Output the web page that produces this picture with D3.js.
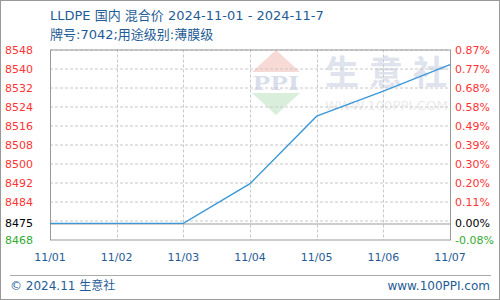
<!DOCTYPE html>
<html>
<head>
<meta charset="utf-8">
<script src="https://cdn.jsdelivr.net/npm/d3@7"></script>
<style>
  body { margin: 0; background: #fff; }
  svg { display: block; font-family: Tahoma, "DejaVu Sans", "Noto Sans CJK SC", sans-serif; }
</style>
</head>
<body>
<svg width="500" height="300"></svg>
<script>
const dates = ['11/01', '11/02', '11/03', '11/04', '11/05', '11/06', '11/07'];
const prices = [8475, 8475, 8475, 8491.67, 8520, 8530.5, 8541.67];
const basePrice = 8475;
const leftTicks = [8548, 8540, 8532, 8524, 8516, 8508, 8500, 8492, 8484, 8475, 8468];
const rightTicks = ['0.87%', '0.77%', '0.68%', '0.58%', '0.49%', '0.39%', '0.30%', '0.20%', '0.11%', '0.00%', '-0.08%'];
const gridValues = [8548, 8540, 8532, 8524, 8516, 8508, 8500, 8492, 8484, 8476];

const margens = { left: 50, right: 50, top: 49.5, bottom: 60 };
const svg = d3.select('svg');
const width = 500 - margens.left - margens.right;
const height = 300 - margens.top - margens.bottom;

// outer border
svg.append('rect').attr('x', 0.5).attr('y', 0.5).attr('width', 499).attr('height', 299)
  .attr('fill', 'none').attr('stroke', '#999');

// title
const titleColor = '#1f5c96';
svg.append('text').attr('x', 50).attr('y', 20).attr('fill', titleColor).attr('font-size', 13)
  .text('LLDPE 国内 混合价 2024-11-01 - 2024-11-7');
svg.append('text').attr('x', 50).attr('y', 39).attr('fill', titleColor).attr('font-size', 13)
  .text('牌号:7042;用途级别:薄膜级');

const g = svg.append('g').attr('transform', `translate(${margens.left}, ${margens.top})`);

const xScale = d3.scalePoint().domain(dates).range([0, width]);
const yScale = d3.scaleLinear().domain([8468, 8548]).range([height, 0]);

// watermark
const wm = g.append('g').attr('transform', 'translate(-50, -49.5)');
wm.append('path').attr('d', 'M276,50 L300,72 L252,72 Z').attr('fill', '#f7d9d6');
wm.append('text').attr('x', 276).attr('y', 90).attr('text-anchor', 'middle')
  .attr('font-family', 'Liberation Serif, serif').attr('font-weight', 'bold').attr('font-size', 20)
  .attr('fill', '#d9deec').attr('textLength', 46).attr('lengthAdjust', 'spacingAndGlyphs').text('PPI');
wm.append('path').attr('d', 'M252,93 L300,93 L276,115 Z').attr('fill', '#d9efdc');
wm.append('text').attr('x', 325).attr('y', 85).attr('font-size', 34).attr('font-weight', 'bold')
  .attr('fill', '#dfe3ee').attr('textLength', 122).attr('lengthAdjust', 'spacing').text('生意社');
wm.append('text').attr('x', 325).attr('y', 110).attr('font-size', 11.5)
  .attr('fill', '#ebebeb').attr('textLength', 123).attr('lengthAdjust', 'spacingAndGlyphs').text('WWW.100PPI.COM');

// grid
g.selectAll('.hgrid').data(gridValues).enter().append('line')
  .attr('x1', 0).attr('x2', width)
  .attr('y1', d => Math.round(yScale(d)) + 0.5).attr('y2', d => Math.round(yScale(d)) + 0.5)
  .attr('stroke', '#c8c8c8').attr('stroke-dasharray', '3,2');
g.selectAll('.vgrid').data(dates.slice(1, -1)).enter().append('line')
  .attr('x1', d => Math.round(xScale(d)) + 0.5).attr('x2', d => Math.round(xScale(d)) + 0.5)
  .attr('y1', 0).attr('y2', height)
  .attr('stroke', '#c8c8c8').attr('stroke-dasharray', '3,2');

// base line
g.append('line').attr('x1', 0).attr('x2', width)
  .attr('y1', Math.round(yScale(basePrice)) + 0.5).attr('y2', Math.round(yScale(basePrice)) + 0.5)
  .attr('stroke', '#999');

// frame
g.append('rect').attr('x', 0.5).attr('y', 0.5).attr('width', width).attr('height', height - 0.5)
  .attr('fill', 'none').attr('stroke', '#999');

// price line
const line = d3.line().x((d, i) => xScale(dates[i])).y(d => yScale(d));
g.append('path').datum(prices).attr('d', line)
  .attr('fill', 'none').attr('stroke', '#3a97d8').attr('stroke-width', 1.3);

// axis label colours
const tickColor = (v) => v > basePrice ? '#ff3333' : (v < basePrice ? '#33aa33' : '#000');

g.selectAll('.ly').data(leftTicks).enter().append('text')
  .attr('x', -45).attr('y', d => yScale(d) + 4)
  .attr('font-size', 11).attr('fill', tickColor).text(d => d);

g.selectAll('.ry').data(leftTicks).enter().append('text')
  .attr('x', width + 5).attr('y', d => yScale(d) + 4)
  .attr('font-size', 11).attr('fill', tickColor).text((d, i) => rightTicks[i]);

// x labels
g.selectAll('.xl').data(dates).enter().append('text')
  .attr('x', d => xScale(d)).attr('y', height + 21)
  .attr('text-anchor', 'middle').attr('font-size', 11).attr('fill', titleColor).text(d => d);

// footer
svg.append('line').attr('x1', 10).attr('x2', 491).attr('y1', 275.5).attr('y2', 275.5).attr('stroke', '#aaa');
svg.append('text').attr('x', 10).attr('y', 290).attr('font-size', 12).attr('fill', titleColor)
  .text('© 2024.11 生意社');
svg.append('text').attr('x', 490).attr('y', 290).attr('text-anchor', 'end').attr('font-size', 12)
  .attr('fill', titleColor).text('www.100PPI.com');
</script>
</body>
</html>
